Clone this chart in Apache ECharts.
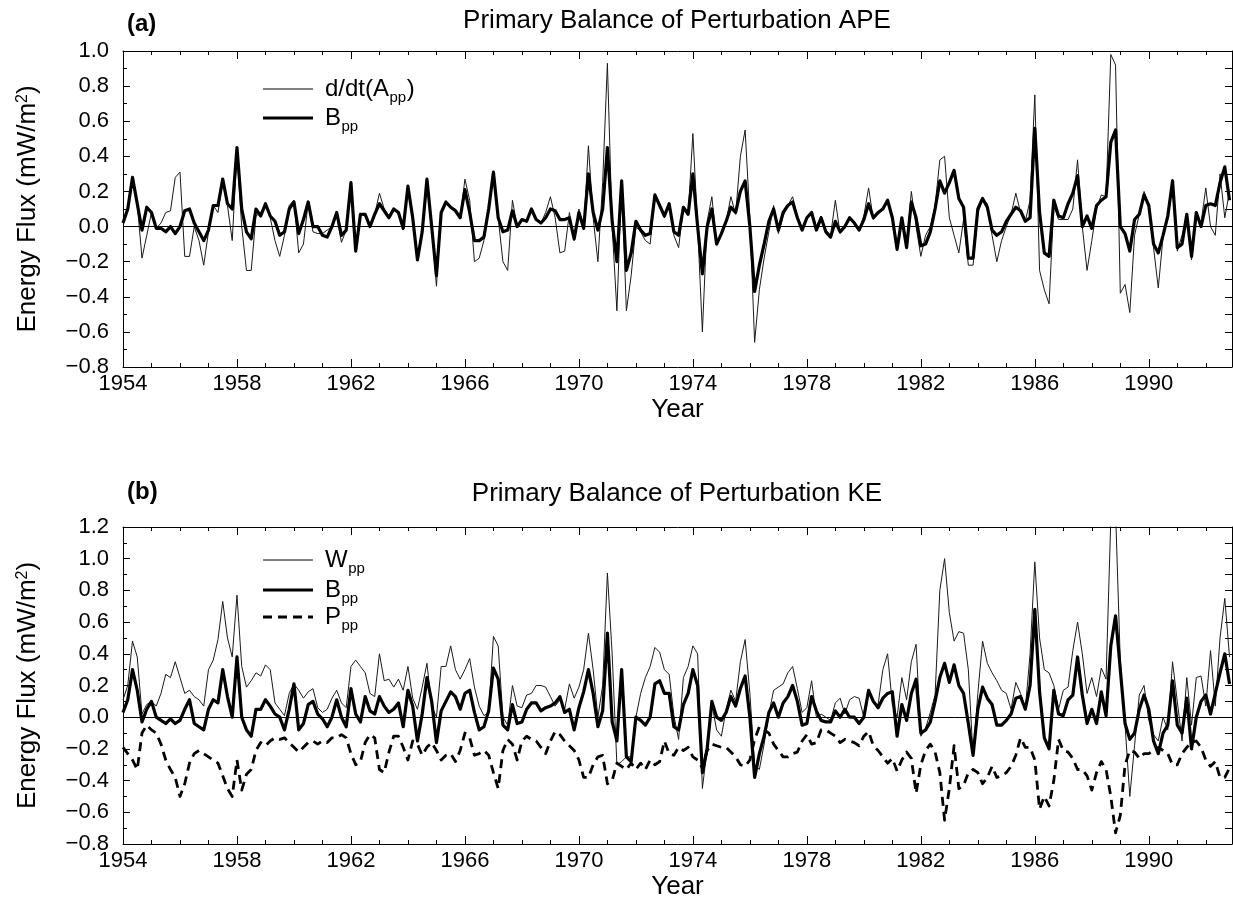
<!DOCTYPE html>
<html>
<head>
<meta charset="utf-8">
<title>Primary Balance of Perturbation APE and KE</title>
<script src="https://cdn.jsdelivr.net/npm/echarts@6/dist/echarts.min.js"></script>
<style>
  html, body { margin: 0; padding: 0; background: #fff; }
  #chart { width: 1233px; height: 901px; }
</style>
</head>
<body>
<div id="chart"></div>
<script>
// Bi-monthly series, first value at January 1954.
const BASE_YEAR = 1954;
const SAMPLES_PER_YEAR = 6;
const AXIS_YEARS = 38.92;          // Jan 1954 .. end of 1992
const YEAR_TICK_STEP = 4;
const LAST_LABELLED_YEAR = 1990;

// (a) Perturbation APE budget, mW/m^2
const apeTendency = [
  0.02, 0.11, 0.26, 0.13, -0.18, -0.05, 0.08, -0.01, 0.02, 0.08, 0.09, 0.28, 0.31, -0.17, -0.17, 0.00, -0.08, -0.22, -0.03, 0.12,
  0.08, 0.26, 0.12, -0.08, 0.42, 0.00, -0.25, -0.25, 0.06, 0.08, 0.13, 0.05, -0.08, -0.17, -0.05, 0.12, 0.15, -0.15, -0.10, 0.14,
  -0.03, -0.04, -0.04, -0.02, 0.00, 0.06, -0.09,
  -0.02, 0.25, -0.14, 0.07, 0.06, 0.00, 0.07, 0.19, 0.10, 0.06, 0.10, 0.08, -0.02, 0.22, 0.05, -0.19, -0.03, 0.27, 0.00, -0.34,
  0.08, 0.13, 0.11, 0.10, 0.05, 0.27, 0.15, -0.20, -0.18, -0.08, 0.11, 0.31, 0.05, -0.20, -0.25, 0.15, 0.00, 0.04, 0.03, 0.10,
  0.04, 0.02, 0.08, 0.17, 0.05, -0.15, -0.14, 0.08,
  -0.08, 0.10, -0.02, 0.46, 0.05, -0.20, 0.25, 0.93, 0.00, -0.48, 0.25, -0.48, -0.28, 0.00, -0.03, -0.08, -0.10, 0.17, 0.12, 0.05,
  0.13, -0.05, -0.12, 0.11, 0.07, 0.53, 0.00, -0.60, 0.03, 0.17, -0.10, -0.04, 0.03, 0.17, 0.07, 0.40, 0.55, 0.05, -0.66, -0.36,
  -0.18, -0.03, 0.12, -0.04, 0.06, 0.12, 0.17,
  0.06, -0.01, 0.05, 0.08, 0.00, 0.06, -0.02, -0.05, 0.15, -0.04, 0.00, 0.05, 0.03, -0.02, 0.06, 0.22, 0.04, 0.07, 0.10, 0.14,
  0.05, -0.12, 0.05, -0.12, 0.20, 0.00, -0.17, -0.05, 0.00, 0.12, 0.38, 0.40, 0.05, -0.05, -0.15, 0.04, -0.22, -0.22, 0.08, 0.15,
  0.13, -0.05, -0.20, -0.08, 0.00, 0.07, 0.19,
  0.08, 0.03, 0.15, 0.75, -0.25, -0.36, -0.44, 0.12, 0.04, 0.04, 0.04, 0.10, 0.38, 0.00, -0.25, -0.08, 0.10, 0.18, 0.17, 0.98,
  0.92, -0.38, -0.33, -0.49, -0.05, 0.07, 0.20, 0.12, -0.12, -0.35, -0.06, 0.06, 0.27, -0.14, -0.05, 0.06, -0.19, 0.08, 0.02, 0.22,
  0.00, -0.05, 0.30, 0.05, 0.20
];

const apeBuoyancy = [
  0.02, 0.10, 0.28, 0.13, -0.02, 0.11, 0.08, -0.01, -0.01, -0.03, 0.00, -0.04, 0.00, 0.09, 0.10, 0.02, -0.03, -0.08, -0.02, 0.12,
  0.12, 0.27, 0.13, 0.10, 0.45, 0.10, -0.03, -0.07, 0.10, 0.06, 0.13, 0.06, 0.03, -0.05, -0.03, 0.10, 0.14, -0.04, 0.04, 0.14,
  0.00, 0.00, -0.05, -0.06, 0.00, 0.08, -0.05,
  -0.02, 0.25, -0.14, 0.07, 0.07, 0.00, 0.07, 0.13, 0.09, 0.05, 0.10, 0.08, -0.01, 0.23, 0.05, -0.19, -0.03, 0.27, 0.00, -0.28,
  0.08, 0.14, 0.11, 0.09, 0.05, 0.21, 0.08, -0.08, -0.08, -0.06, 0.10, 0.31, 0.05, -0.03, -0.02, 0.09, 0.00, 0.04, 0.03, 0.10,
  0.04, 0.02, 0.05, 0.10, 0.09, 0.04, 0.04, 0.05,
  -0.07, 0.08, -0.01, 0.30, 0.08, -0.02, 0.10, 0.45, 0.03, -0.20, 0.26, -0.25, -0.15, 0.03, -0.02, -0.05, -0.04, 0.18, 0.12, 0.06,
  0.13, -0.03, -0.05, 0.11, 0.07, 0.30, 0.00, -0.27, 0.00, 0.10, -0.10, -0.04, 0.03, 0.11, 0.08, 0.20, 0.26, 0.00, -0.37, -0.22,
  -0.10, 0.03, 0.10, -0.02, 0.08, 0.12, 0.14,
  0.05, -0.02, 0.05, 0.08, -0.02, 0.05, -0.03, -0.06, 0.03, -0.03, 0.00, 0.05, 0.02, -0.02, 0.04, 0.13, 0.05, 0.08, 0.10, 0.15,
  0.05, -0.13, 0.05, -0.12, 0.14, 0.05, -0.11, -0.10, -0.03, 0.10, 0.26, 0.19, 0.25, 0.32, 0.16, 0.11, -0.18, -0.18, 0.10, 0.16,
  0.11, -0.02, -0.05, -0.03, 0.03, 0.07, 0.11,
  0.09, 0.03, 0.05, 0.56, 0.08, -0.15, -0.17, 0.15, 0.06, 0.05, 0.13, 0.19, 0.29, 0.00, 0.06, -0.01, 0.12, 0.15, 0.17, 0.48,
  0.55, 0.00, -0.04, -0.14, 0.04, 0.07, 0.18, 0.12, -0.10, -0.15, -0.05, 0.06, 0.26, -0.12, -0.10, 0.07, -0.17, 0.08, 0.00, 0.12,
  0.13, 0.12, 0.25, 0.34, 0.15
];

// (b) Perturbation KE budget, mW/m^2
const keWind = [
  0.11, 0.20, 0.48, 0.38, 0.02, 0.08, 0.10, 0.07, 0.15, 0.27, 0.25, 0.35, 0.25, 0.15, 0.17, 0.13, 0.11, 0.07, 0.30, 0.36,
  0.49, 0.73, 0.50, 0.38, 0.77, 0.32, 0.19, 0.23, 0.28, 0.26, 0.33, 0.30, 0.09, 0.05, 0.01, 0.15, 0.21, 0.17, 0.12, 0.16,
  0.18, 0.06, 0.03, 0.05, 0.12, 0.17, 0.09,
  0.06, 0.32, 0.36, 0.32, 0.28, 0.15, 0.13, 0.40, 0.23, 0.24, 0.19, 0.24, 0.17, 0.32, 0.12, 0.05, 0.19, 0.34, 0.07, 0.00,
  0.32, 0.32, 0.45, 0.30, 0.24, 0.30, 0.37, 0.19, 0.07, 0.01, 0.03, 0.51, 0.45, 0.00, -0.05, 0.20, 0.07, 0.06, 0.14, 0.15,
  0.20, 0.20, 0.19, 0.13, 0.07, 0.11, 0.05, 0.21,
  0.12, 0.19, 0.30, 0.53, 0.30, 0.00, 0.20, 0.91, 0.40, -0.30, -0.28, -0.25, -0.25, 0.00, 0.15, 0.25, 0.32, 0.44, 0.41, 0.30,
  0.27, 0.01, -0.14, 0.25, 0.32, 0.45, 0.40, -0.45, -0.20, 0.08, -0.08, -0.12, 0.05, 0.17, 0.10, 0.35, 0.49, 0.15, -0.30, -0.33,
  -0.17, 0.02, 0.17, 0.19, 0.21, 0.28, 0.32,
  0.18, 0.03, 0.06, 0.23, 0.00, 0.02, 0.00, -0.02, 0.09, 0.12, 0.02, 0.11, 0.13, 0.12, 0.00, 0.15, 0.09, 0.08, 0.30, 0.40,
  0.08, 0.00, 0.25, 0.11, 0.35, 0.46, -0.12, -0.07, 0.03, 0.14, 0.80, 1.00, 0.66, 0.48, 0.54, 0.53, 0.30, -0.25, 0.15, 0.48,
  0.34, 0.28, 0.23, 0.17, 0.15, 0.05, 0.22,
  0.15, 0.05, 0.40, 0.98, 0.50, 0.30, 0.28, 0.20, 0.05, 0.17, 0.19, 0.42, 0.60, 0.40, 0.15, 0.25, 0.13, 0.31, 0.24, 1.25,
  1.30, 0.35, -0.05, -0.50, -0.18, 0.14, 0.20, -0.02, -0.11, -0.15, 0.00, -0.08, 0.35, 0.10, -0.15, 0.25, -0.05, 0.25, 0.26, 0.07,
  0.42, 0.07, 0.50, 0.75, 0.38
];

const keBuoyancy = [
  0.03, 0.11, 0.30, 0.17, -0.03, 0.05, 0.10, 0.00, -0.02, -0.04, -0.01, -0.04, -0.02, 0.05, 0.11, -0.04, -0.06, -0.08, 0.05, 0.11,
  0.09, 0.30, 0.13, 0.00, 0.38, 0.00, -0.08, -0.12, 0.05, 0.05, 0.11, 0.07, 0.02, 0.00, -0.08, 0.05, 0.21, -0.08, -0.04, 0.08,
  0.10, 0.02, -0.01, -0.06, 0.00, 0.11, 0.00,
  -0.06, 0.18, 0.02, -0.03, 0.13, 0.04, 0.02, 0.13, 0.07, 0.03, 0.05, 0.09, -0.06, 0.17, 0.07, -0.15, 0.02, 0.25, 0.10, -0.16,
  0.04, 0.10, 0.16, 0.13, 0.05, 0.15, 0.17, 0.03, -0.08, -0.06, 0.04, 0.31, 0.24, -0.05, -0.08, 0.08, -0.04, -0.03, 0.05, 0.09,
  0.09, 0.04, 0.06, 0.07, 0.09, 0.13, 0.03, 0.05,
  -0.08, 0.06, 0.16, 0.30, 0.15, -0.06, 0.04, 0.53, -0.03, -0.15, 0.30, -0.25, -0.28, 0.00, -0.02, -0.05, 0.00, 0.21, 0.23, 0.15,
  0.15, -0.06, -0.08, 0.08, 0.15, 0.30, 0.20, -0.35, -0.20, 0.10, 0.00, -0.02, 0.03, 0.13, 0.07, 0.18, 0.26, 0.00, -0.38, -0.23,
  -0.12, 0.03, 0.09, 0.00, 0.09, 0.13, 0.20,
  0.10, -0.05, -0.04, 0.13, 0.04, -0.02, -0.03, -0.03, 0.04, 0.00, 0.05, 0.00, 0.00, -0.04, 0.00, 0.17, 0.10, 0.06, 0.12, 0.15,
  0.16, -0.12, 0.08, -0.02, 0.15, 0.24, -0.10, -0.08, -0.03, 0.10, 0.25, 0.34, 0.22, 0.33, 0.20, 0.15, -0.04, -0.24, 0.05, 0.19,
  0.12, 0.08, -0.05, -0.05, -0.02, 0.02, 0.12,
  0.13, 0.05, 0.20, 0.68, 0.16, -0.13, -0.20, 0.17, 0.02, 0.01, 0.11, 0.14, 0.38, 0.14, -0.04, 0.05, -0.04, 0.16, 0.01, 0.45,
  0.64, 0.30, -0.04, -0.14, -0.10, 0.05, 0.14, 0.05, -0.15, -0.23, -0.10, -0.05, 0.23, -0.05, -0.10, 0.12, -0.20, 0.00, 0.10, 0.14,
  0.02, 0.15, 0.28, 0.40, 0.21
];

const kePressure = [
  -0.19, -0.23, -0.27, -0.33, -0.10, -0.05, -0.08, -0.10, -0.17, -0.27, -0.33, -0.38, -0.50, -0.42, -0.29, -0.23, -0.21, -0.23, -0.25, -0.27,
  -0.29, -0.37, -0.45, -0.50, -0.27, -0.46, -0.36, -0.33, -0.21, -0.16, -0.18, -0.15, -0.13, -0.14, -0.13, -0.16, -0.19, -0.22, -0.19, -0.16,
  -0.15, -0.17, -0.15, -0.16, -0.13, -0.13, -0.11,
  -0.13, -0.23, -0.30, -0.28, -0.16, -0.11, -0.13, -0.33, -0.35, -0.22, -0.12, -0.12, -0.19, -0.27, -0.15, -0.17, -0.24, -0.19, -0.16, -0.21,
  -0.27, -0.24, -0.23, -0.28, -0.21, -0.10, -0.13, -0.24, -0.23, -0.21, -0.24, -0.35, -0.45, -0.21, -0.14, -0.17, -0.27, -0.15, -0.12, -0.14,
  -0.15, -0.19, -0.23, -0.15, -0.09, -0.11, -0.15, -0.18,
  -0.21, -0.27, -0.38, -0.38, -0.30, -0.25, -0.24, -0.42, -0.40, -0.29, -0.31, -0.33, -0.29, -0.33, -0.29, -0.33, -0.27, -0.30, -0.28, -0.15,
  -0.23, -0.24, -0.19, -0.21, -0.19, -0.25, -0.27, -0.32, -0.21, -0.17, -0.18, -0.19, -0.19, -0.22, -0.25, -0.30, -0.31, -0.27, -0.14, -0.06,
  -0.08, -0.10, -0.17, -0.21, -0.25, -0.25, -0.23,
  -0.22, -0.15, -0.11, -0.17, -0.16, -0.08, -0.08, -0.10, -0.12, -0.16, -0.14, -0.15, -0.16, -0.18, -0.12, -0.09, -0.18, -0.21, -0.25, -0.29,
  -0.26, -0.34, -0.27, -0.22, -0.26, -0.48, -0.30, -0.21, -0.17, -0.22, -0.35, -0.65, -0.45, -0.18, -0.45, -0.43, -0.35, -0.33, -0.35, -0.42,
  -0.38, -0.31, -0.38, -0.37, -0.35, -0.31, -0.24,
  -0.13, -0.19, -0.19, -0.27, -0.58, -0.50, -0.56, -0.40, -0.14, -0.21, -0.22, -0.26, -0.33, -0.33, -0.37, -0.46, -0.35, -0.28, -0.33, -0.50,
  -0.73, -0.62, -0.30, -0.21, -0.22, -0.26, -0.23, -0.23, -0.21, -0.19, -0.21, -0.23, -0.30, -0.30, -0.23, -0.19, -0.16, -0.15, -0.19, -0.27,
  -0.31, -0.28, -0.38, -0.38, -0.32
];

const FONT = "'Liberation Sans', Arial, Helvetica, sans-serif";

// x values are years since January 1954
const toPairs = arr => arr.map((v, i) => [i / SAMPLES_PER_YEAR, v]);

function yLabel(v) {
  if (Math.abs(v) < 1e-9) return '0.0';
  return v.toFixed(1).replace('-', '\u2212');
}

function yearLabel(v) {
  if (Math.abs(v - Math.round(v)) > 1e-6) return '';
  const yr = BASE_YEAR + Math.round(v);
  if ((yr - BASE_YEAR) % YEAR_TICK_STEP !== 0 || yr > LAST_LABELLED_YEAR) return '';
  return String(yr);
}

const BLACK_LINE = { color: '#000', width: 1 };

function xAxesFor(gridIndex) {
  const common = {
    type: 'value', gridIndex, min: 0, max: AXIS_YEARS, interval: YEAR_TICK_STEP,
    splitLine: { show: false },
    axisLine: { show: true, onZero: false, lineStyle: BLACK_LINE },
    axisTick: { show: true, inside: true, length: 8, lineStyle: BLACK_LINE },
    minorTick: { show: true, splitNumber: 4, length: 4, lineStyle: BLACK_LINE }
  };
  return [
    Object.assign({}, common, {
      position: 'bottom',
      axisLabel: { show: true, color: '#000', fontSize: 22, fontFamily: FONT, margin: 6,
                   showMaxLabel: false, formatter: yearLabel },
      name: 'Year', nameLocation: 'middle', nameGap: 30,
      nameTextStyle: { color: '#000', fontSize: 26, fontFamily: FONT }
    }),
    Object.assign({}, common, { position: 'top', axisLabel: { show: false } })
  ];
}

const NAME_RICH = {
  n: { fontSize: 26, lineHeight: 26, fontFamily: FONT, color: '#000', verticalAlign: 'middle' },
  sup: { fontSize: 16, lineHeight: 16, fontFamily: FONT, color: '#000', verticalAlign: 'top', padding: [0, 0, 24, 0] }
};

function yAxesFor(gridIndex, maxVal) {
  const common = {
    type: 'value', gridIndex, min: -0.8, max: maxVal, interval: 0.2,
    splitLine: { show: false },
    axisLine: { show: true, onZero: false, lineStyle: BLACK_LINE }
  };
  return [
    Object.assign({}, common, {
      position: 'left',
      axisTick: { show: true, inside: true, length: 7, lineStyle: BLACK_LINE },
      minorTick: { show: true, splitNumber: 2, length: 4, lineStyle: BLACK_LINE },
      axisLabel: { color: '#000', fontSize: 22, fontFamily: FONT, margin: 14, formatter: yLabel },
      name: '{n|Energy Flux (mW/m}{sup|2}{n|)}', nameLocation: 'middle', nameGap: 63,
      nameTextStyle: { rich: NAME_RICH }
    }),
    Object.assign({}, common, {
      position: 'right',
      axisTick: { show: true, inside: true, length: 7, lineStyle: BLACK_LINE },
      minorTick: { show: true, splitNumber: 2, length: 7, lineStyle: BLACK_LINE },
      axisLabel: { show: false }
    })
  ];
}

const THIN = { color: '#1a1a1a', width: 1, join: 'round' };
const THICK = { color: '#000', width: 3.2, join: 'round' };
const DASHED = { color: '#000', width: 2.8, type: [9, 6], join: 'round' };

const zeroLine = {
  silent: true, symbol: 'none', label: { show: false },
  lineStyle: { color: '#000', width: 1, type: 'solid' },
  data: [{ yAxis: 0 }]
};

function lineSeries(name, values, xi, yi, style, z, extra) {
  return Object.assign({
    name, type: 'line', xAxisIndex: xi, yAxisIndex: yi,
    data: toPairs(values), symbol: 'none', showSymbol: false,
    lineStyle: style, z, silent: true
  }, extra || {});
}

// Key: line sample followed by the symbol name with its "pp" subscript.
const KEY_FONT_SIZE = 24;
const KEY_SUB_SIZE = 15;
const measureCtx = document.createElement('canvas').getContext('2d');
function textWidth(str, size) {
  measureCtx.font = size + 'px ' + FONT;
  return measureCtx.measureText(str).width;
}

function keyEntry(y, style, head, tail) {
  const out = [];
  out.push({
    type: 'line', silent: true, z: 10,
    shape: { x1: 263, y1: y, x2: 313, y2: y },
    style: { stroke: '#000', lineWidth: style.width, lineDash: Array.isArray(style.type) ? style.type : null }
  });
  const x0 = 325;
  const headW = textWidth(head, KEY_FONT_SIZE);
  const subW = textWidth('pp', KEY_SUB_SIZE);
  const textStyle = (text, size) => ({
    text, fill: '#000', font: size + 'px ' + FONT,
    textAlign: 'left', align: 'left', textVerticalAlign: 'middle', verticalAlign: 'middle'
  });
  out.push({ type: 'text', silent: true, z: 10, x: x0, y: y, style: textStyle(head, KEY_FONT_SIZE) });
  out.push({ type: 'text', silent: true, z: 10, x: x0 + headW + 0.5, y: y + 9, style: textStyle('pp', KEY_SUB_SIZE) });
  if (tail) {
    out.push({ type: 'text', silent: true, z: 10, x: x0 + headW + subW + 1, y: y, style: textStyle(tail, KEY_FONT_SIZE) });
  }
  return out;
}

const chart = echarts.init(document.getElementById('chart'), null, { renderer: 'canvas' });

chart.setOption({
  animation: false,
  backgroundColor: '#fff',
  textStyle: { fontFamily: FONT, color: '#000' },
  title: [
    { text: '(a)', left: 127, top: 12, padding: 0,
      textStyle: { fontSize: 24, fontWeight: 'bold', fontFamily: FONT, color: '#000' } },
    { text: 'Primary Balance of Perturbation APE', left: 677, top: 8, padding: 0, textAlign: 'center',
      textStyle: { fontSize: 26, fontWeight: 'normal', fontFamily: FONT, color: '#000' } },
    { text: '(b)', left: 127, top: 480, padding: 0,
      textStyle: { fontSize: 24, fontWeight: 'bold', fontFamily: FONT, color: '#000' } },
    { text: 'Primary Balance of Perturbation KE', left: 677, top: 481, padding: 0, textAlign: 'center',
      textStyle: { fontSize: 26, fontWeight: 'normal', fontFamily: FONT, color: '#000' } }
  ],
  grid: [
    { left: 123, width: 1109, top: 51, height: 316 },
    { left: 123, width: 1109, top: 527, height: 317 }
  ],
  xAxis: [].concat(xAxesFor(0), xAxesFor(1)),
  yAxis: [].concat(yAxesFor(0, 1.0), yAxesFor(1, 1.2)),
  graphic: [].concat(
    keyEntry(89, THIN, 'd/dt(A', ')'),
    keyEntry(118, THICK, 'B'),
    keyEntry(560, THIN, 'W'),
    keyEntry(590, THICK, 'B'),
    keyEntry(617, DASHED, 'P')
  ),
  series: [
    lineSeries('d/dt(App)', apeTendency, 0, 0, THIN, 2, { markLine: zeroLine }),
    lineSeries('Bpp (APE)', apeBuoyancy, 0, 0, THICK, 3),
    lineSeries('Wpp', keWind, 2, 2, THIN, 2, { markLine: zeroLine }),
    lineSeries('Bpp (KE)', keBuoyancy, 2, 2, THICK, 3),
    lineSeries('Ppp', kePressure, 2, 2, DASHED, 3)
  ]
});
</script>
</body>
</html>
